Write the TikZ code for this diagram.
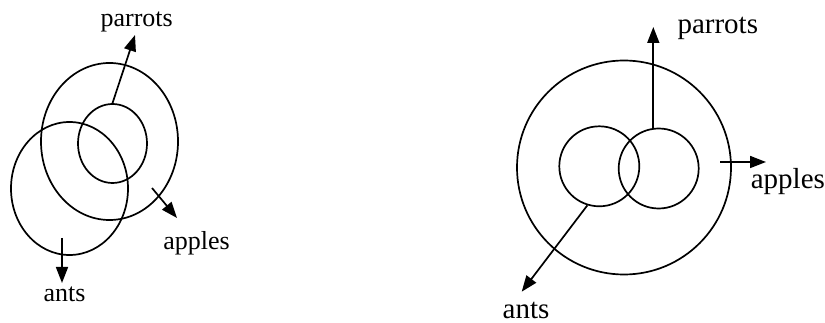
\documentclass[tikz,border=0pt]{standalone}
\usepackage{fontspec}
\setmainfont{Liberation Serif}
\usepackage{tikz}
\usetikzlibrary{arrows.meta,positioning,shapes.geometric}

\begin{document}
\begin{tikzpicture}[x=1pt, y=-1pt, line width=1.7pt,
    setring/.style={draw, ellipse, inner sep=0pt},
    pointer/.style={-{Triangle[length=16pt,width=12pt]}},
    leftlabel/.style={anchor=base, inner sep=0pt, font=\fontsize{26}{28}\selectfont},
    rightlabel/.style={anchor=base, inner sep=0pt, font=\fontsize{29}{31}\selectfont}]
    \useasboundingbox (0,0) rectangle (825,323);

    % left picture
    \node[setring, minimum width=137pt, minimum height=157pt] (applesL) at (109.5,141.5) {};
    \node[setring, minimum width=69pt, minimum height=79pt] (parrotsL) at (112.5,143.5) {};
    \node[setring, minimum width=117pt, minimum height=133pt] (antsL) at (69.5,188.5) {};
    \coordinate (applesLfrom) at (152,188);
    \coordinate (applesLto) at (177,218);
    \coordinate (parrotsLto) at (135,35);
    \coordinate (antsLfrom) at (62,238);
    \coordinate (antsLto) at (62,283);
    \draw[pointer] (parrotsL.north) -- (parrotsLto);
    \draw[pointer] (applesLfrom) -- (applesLto);
    \draw[pointer] (antsLfrom) -- (antsLto);
    \node[leftlabel] (parrotsLtext) at (136.7,26.7) {parrots};
    \node[leftlabel] (applesLtext) at (196.5,250) {apples};
    \node[leftlabel] (antsLtext) at (64.5,301.7) {ants};

    % right picture
    \node[setring, circle, minimum size=214pt] (applesR) at (624,167.5) {};
    \node[setring, circle, minimum size=80pt] (antsR) at (599.3,166.3) {};
    \node[setring, circle, minimum size=80pt] (parrotsR) at (658.7,168.5) {};
    \coordinate (parrotsRfrom) at (653.3,128.5);
    \coordinate (parrotsRto) at (653.3,27);
    \coordinate (applesRfrom) at (720,162);
    \coordinate (applesRto) at (766,162);
    \coordinate (antsRto) at (521.7,291.7);
    \draw[pointer] (parrotsRfrom) -- (parrotsRto);
    \draw[pointer] (applesRfrom) -- (applesRto);
    \draw[pointer] (antsR.-107) -- (antsRto);
    \node[rightlabel, anchor=base west] (parrotsRtext) at (676.7,33.3) {parrots};
    \node[rightlabel, anchor=base west] (applesRtext) at (750,188.3) {apples};
    \node[rightlabel] (antsRtext) at (526,318.5) {ants};
\end{tikzpicture}
\end{document}
